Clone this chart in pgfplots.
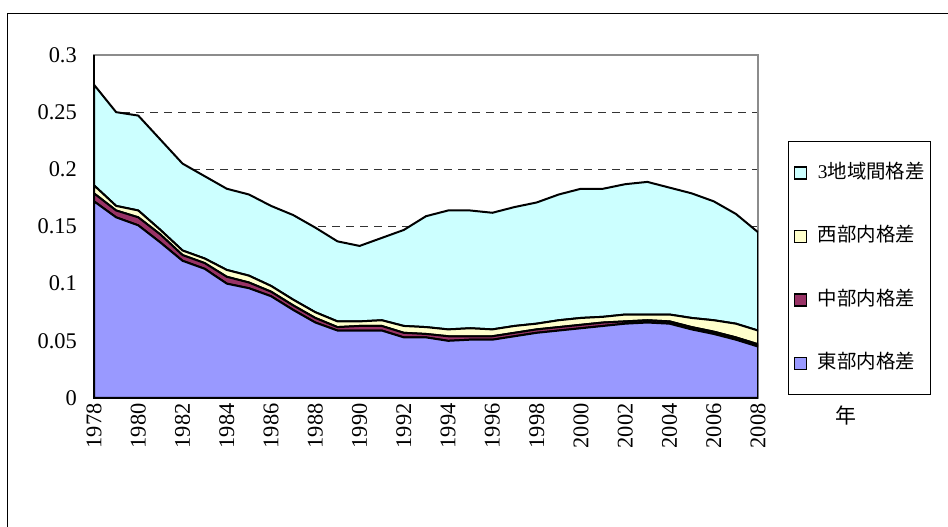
\documentclass[border=0pt]{standalone}
\usepackage{fontspec}
\setmainfont{Liberation Serif}
\newfontfamily\cjk{Noto Sans CJK JP}
\usepackage{pgfplots}
\usepackage{pgfplotstable}
\pgfplotsset{compat=1.18}

\definecolor{eastblue}{HTML}{9999FF}
\definecolor{midred}{HTML}{993366}
\definecolor{westyellow}{HTML}{FFFFCC}
\definecolor{interzone}{HTML}{CCFFFF}

% inequality components, stacked: east, central, west, between the 3 regions
\pgfplotstableread{
year east  mid   west  inter
1978 0.172 0.007 0.007 0.088
1979 0.158 0.006 0.004 0.082
1980 0.151 0.007 0.006 0.083
1981 0.136 0.007 0.004 0.079
1982 0.120 0.005 0.004 0.076
1983 0.113 0.005 0.004 0.072
1984 0.100 0.006 0.006 0.071
1985 0.096 0.005 0.006 0.071
1986 0.089 0.004 0.005 0.070
1987 0.077 0.004 0.005 0.074
1988 0.066 0.004 0.005 0.074
1989 0.059 0.003 0.005 0.070
1990 0.059 0.004 0.004 0.066
1991 0.059 0.004 0.005 0.072
1992 0.053 0.004 0.006 0.084
1993 0.053 0.003 0.006 0.097
1994 0.050 0.004 0.006 0.104
1995 0.051 0.003 0.007 0.103
1996 0.051 0.003 0.006 0.102
1997 0.054 0.003 0.006 0.104
1998 0.057 0.003 0.005 0.106
1999 0.059 0.003 0.006 0.110
2000 0.061 0.003 0.006 0.113
2001 0.063 0.003 0.005 0.112
2002 0.065 0.002 0.006 0.114
2003 0.066 0.002 0.005 0.116
2004 0.065 0.002 0.006 0.111
2005 0.060 0.002 0.008 0.109
2006 0.056 0.002 0.010 0.104
2007 0.051 0.002 0.012 0.096
2008 0.045 0.002 0.012 0.086
}\gapdata

\begin{document}
\begin{tikzpicture}[x=1bp,y=1bp]
\useasboundingbox (0,0) rectangle (948,527);
\draw[line width=1.3bp] (7.5,513.5) rectangle (990,-40);
\begin{axis}[
  at={(94bp,129bp)}, anchor=south west,
  scale only axis, width=664bp, height=343bp,
  xmin=1978, xmax=2008, ymin=0, ymax=0.3,
  stack plots=y,
  xtick={1978,1980,...,2008},
  minor xtick={1979,1981,...,2007},
  ytick={0,0.05,0.1,0.15,0.2,0.25,0.3},
  yticklabels={0,0.05,0.1,0.15,0.2,0.25,0.3},
  xtick pos=bottom, ytick pos=left,
  tick align=inside,
  major tick length=6bp, minor tick length=6bp,
  tick style={black, line width=1bp},
  /pgf/number format/assume math mode=true,
  tick label style={font=\fontsize{22.5}{24}\selectfont},
  xticklabel style={rotate=90, anchor=east, xshift=-2bp, /pgf/number format/1000 sep={}},
  yticklabel style={xshift=-13.7bp},
  ymajorgrids,
  major grid style={black!80, line width=0.9bp, dash pattern=on 8bp off 6bp},
  axis line style={black!45, line width=1.6bp},
  reverse legend,
  legend cell align=left,
  legend image code/.code={\path[draw=none, fill=none] (0bp,0bp) -- (24bp,0bp);
    \draw[#1, draw=black, line width=1.3bp] (3bp,-6bp) rectangle (15bp,6bp);},
  legend style={at={(1.0452,0.7493)}, anchor=north west,
    draw=black, line width=0.8bp,
    inner xsep=3bp, inner ysep=22bp, row sep=44.5bp,
    font=\cjk\fontsize{19.5}{20}\selectfont,
    nodes={text height=15bp, text depth=4bp, inner ysep=0bp, inner xsep=2.5bp}},
]
\addplot[fill=eastblue, draw=black, line width=2bp] table[x=year, y=east] {\gapdata} \closedcycle;
\addplot[fill=midred, draw=black, line width=2bp] table[x=year, y=mid] {\gapdata} \closedcycle;
\addplot[fill=westyellow, draw=black, line width=2bp] table[x=year, y=west] {\gapdata} \closedcycle;
\addplot[fill=interzone, draw=black, line width=2bp] table[x=year, y=inter] {\gapdata} \closedcycle;
\legend{東部内格差, 中部内格差, 西部内格差, {\rmfamily 3}地域間格差}
\end{axis}
\draw[black, line width=1.6bp] (94,472) -- (94,129) -- (758,129);
\node[font=\cjk\fontsize{21}{22}\selectfont] at (846,111) {年};
\end{tikzpicture}
\end{document}
